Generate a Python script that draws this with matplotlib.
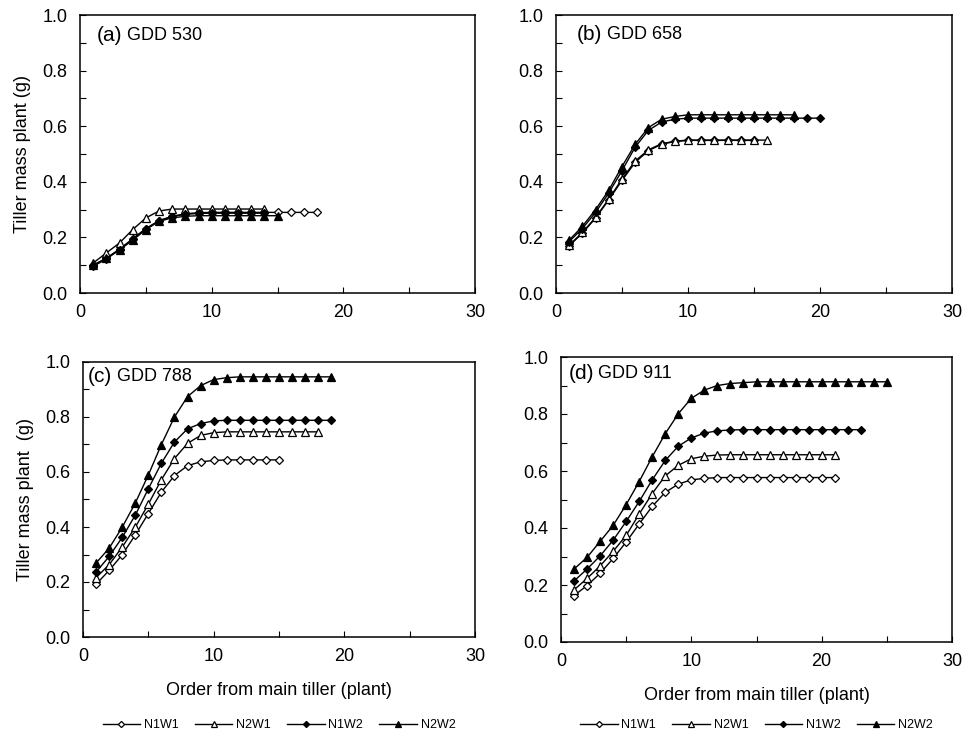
"""Tiller mass per plant vs. order from main tiller, four GDD stages."""
import matplotlib
matplotlib.use("Agg")
import matplotlib.pyplot as plt
from matplotlib.ticker import MultipleLocator

plt.rcParams["font.family"] = ["Liberation Sans", "DejaVu Sans"]

series = ["N1W1", "N2W1", "N1W2", "N2W2"]

# (a) GDD 530
a_n1w1 = [0.10, 0.125, 0.158, 0.195, 0.232, 0.26, 0.276, 0.285, 0.289] + [0.29] * 9
a_n2w1 = [0.108, 0.144, 0.18, 0.228, 0.27, 0.295, 0.302] + [0.302] * 7
a_n1w2 = [0.096, 0.122, 0.156, 0.194, 0.23, 0.26, 0.275, 0.283, 0.286] + [0.287] * 5
a_n2w2 = [0.10, 0.125, 0.155, 0.19, 0.228, 0.258, 0.27, 0.276] + [0.278] * 7

# (b) GDD 658
b_n1w1 = [0.17, 0.215, 0.27, 0.335, 0.405, 0.47, 0.512, 0.535, 0.545] + [0.549] * 6
b_n2w1 = [0.172, 0.218, 0.272, 0.338, 0.41, 0.475, 0.515, 0.537, 0.546] + [0.55] * 7
b_n1w2 = [0.185, 0.232, 0.29, 0.36, 0.44, 0.525, 0.585, 0.615, 0.625] + [0.629] * 11
b_n2w2 = [0.19, 0.24, 0.30, 0.37, 0.455, 0.535, 0.595, 0.625, 0.635] + [0.641] * 9

# (c) GDD 788
c_n1w1 = [0.192, 0.242, 0.299, 0.371, 0.449, 0.527, 0.587, 0.623, 0.637, 0.642] + [0.644] * 5
c_n2w1 = [0.216, 0.263, 0.327, 0.399, 0.483, 0.572, 0.649, 0.704, 0.733, 0.743] + [0.746] * 8
c_n1w2 = [0.236, 0.293, 0.362, 0.443, 0.539, 0.632, 0.709, 0.757, 0.776, 0.786] + [0.788] * 9
c_n2w2 = [0.269, 0.323, 0.399, 0.487, 0.589, 0.70, 0.80, 0.874, 0.914, 0.936, 0.943] + [0.946] * 8

# (d) GDD 911
d_n1w1 = [0.163, 0.198, 0.241, 0.293, 0.351, 0.414, 0.476, 0.525, 0.554, 0.569, 0.574] + [0.577] * 10
d_n2w1 = [0.183, 0.223, 0.267, 0.318, 0.374, 0.449, 0.521, 0.583, 0.620, 0.643, 0.652, 0.656] + [0.657] * 9
d_n1w2 = [0.214, 0.256, 0.302, 0.357, 0.423, 0.493, 0.569, 0.637, 0.687, 0.716, 0.733, 0.741, 0.744] + [0.745] * 10
d_n2w2 = [0.256, 0.297, 0.353, 0.409, 0.482, 0.563, 0.650, 0.731, 0.801, 0.855, 0.884, 0.900, 0.907, 0.910] + [0.913] * 11

panels = [
    ("(a)", "GDD 530", [a_n1w1, a_n2w1, a_n1w2, a_n2w2]),
    ("(b)", "GDD 658", [b_n1w1, b_n2w1, b_n1w2, b_n2w2]),
    ("(c)", "GDD 788", [c_n1w1, c_n2w1, c_n1w2, c_n2w2]),
    ("(d)", "GDD 911", [d_n1w1, d_n2w1, d_n1w2, d_n2w2]),
]

# marker, face colour, size per series
styles = {
    "N1W1": dict(marker="D", mfc="white", ms=4.5),
    "N2W1": dict(marker="^", mfc="white", ms=6),
    "N1W2": dict(marker="D", mfc="black", ms=4.5),
    "N2W2": dict(marker="^", mfc="black", ms=6),
}

W, H = 965, 745
FS = 13
fig = plt.figure(figsize=(W / 100, H / 100), dpi=100)

# axes boxes in pixels: left, right, top, bottom
boxes = [(80, 475, 15, 293), (556, 952, 15, 293),
         (83, 475, 362, 637), (561, 952, 357, 642)]
# panel tag position: x in axes fraction, y in pixels below the top spine
tag_pos = [(0.043, 20), (0.053, 19), (0.013, 15), (0.02, 16)]

axes = []
for (l, r, t, b) in boxes:
    ax = fig.add_axes([l / W, (H - b) / H, (r - l) / W, (b - t) / H])
    axes.append(ax)

for i, (ax, (tag, gdd, data)) in enumerate(zip(axes, panels)):
    handles = []
    for name, ys in zip(series, data):
        xs = list(range(1, len(ys) + 1))
        st = styles[name]
        h, = ax.plot(xs, ys, color="black", lw=1.0, marker=st["marker"],
                     mfc=st["mfc"], mec="black", mew=0.9, ms=st["ms"], label=name)
        handles.append(h)
    ax.set_xlim(0, 30)
    ax.set_ylim(0, 1.0)
    ax.xaxis.set_major_locator(MultipleLocator(10))
    ax.xaxis.set_minor_locator(MultipleLocator(5))
    ax.yaxis.set_major_locator(MultipleLocator(0.2))
    ax.yaxis.set_minor_locator(MultipleLocator(0.1))
    ax.yaxis.set_major_formatter(plt.FuncFormatter(lambda v, p: f"{v:.1f}"))
    ax.tick_params(which="both", direction="in", length=4, width=0.8,
                   labelsize=FS, top=False, right=False)
    ax.tick_params(axis="x", which="major", pad=8)
    ax.tick_params(axis="y", which="major", pad=9)
    for sp in ax.spines.values():
        sp.set_linewidth(1.1)

    tx, ty = tag_pos[i]
    l, r, t, b = boxes[i]
    t1 = ax.text(tx, 1 - ty / (b - t), tag, transform=ax.transAxes, fontsize=15,
                 va="center", ha="left")
    ax.annotate(gdd, xy=(1, 0.5), xycoords=t1, xytext=(3, 0),
                textcoords="offset points", fontsize=FS, va="center", ha="left")

    if i == 0:
        ax.set_ylabel("Tiller mass plant (g)", fontsize=FS, labelpad=8)
    if i == 2:
        ax.set_ylabel("Tiller mass plant  (g)", fontsize=FS, labelpad=8)
    if i >= 2:
        ax.set_xlabel("Order from main tiller (plant)", fontsize=FS, labelpad=12)
        cx = (l + r) / 2 / W
        fig.legend(handles=handles, loc="center", bbox_to_anchor=(cx, 1 - 725 / H),
                   ncol=4, frameon=False, fontsize=9, handlelength=3.0,
                   handletextpad=0.3, columnspacing=1.3, markerscale=0.7)

fig.savefig("out.png", dpi=100)
